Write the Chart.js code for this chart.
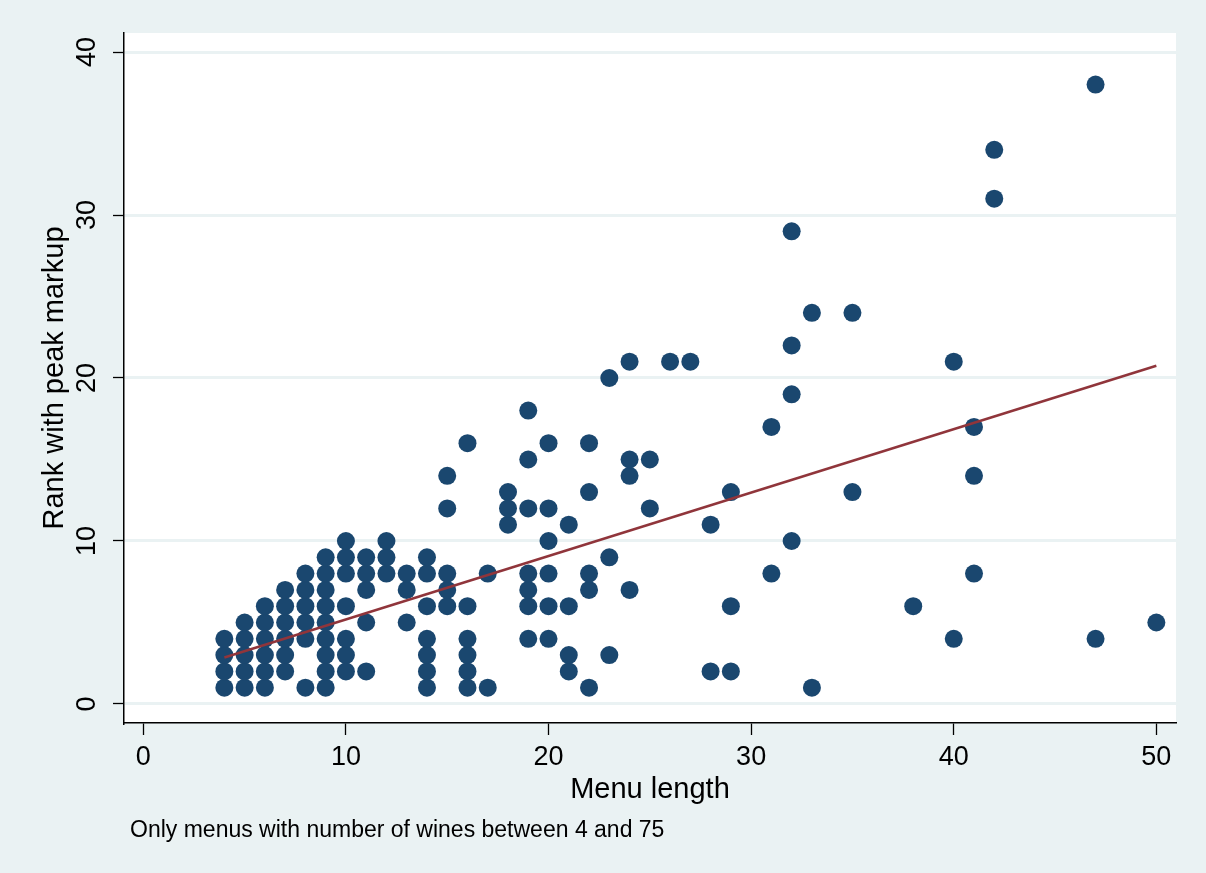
<!DOCTYPE html>
<html>
<head>
<meta charset="utf-8">
<style>
  html, body { margin: 0; padding: 0; background: #eaf2f3; }
  canvas { display: block; }
</style>
<script src="https://cdn.jsdelivr.net/npm/chart.js@4/dist/chart.umd.min.js"></script>
</head>
<body>
<canvas id="c" width="1206" height="873"></canvas>
<script>
// ---- data ----
const menuLength = [
  4,4,4,4,
  5,5,5,5,5,
  6,6,6,6,6,6,
  7,7,7,7,7,7,
  8,8,8,8,8,8,
  9,9,9,9,9,9,9,9,9,
  10,10,10,10,10,10,10,
  11,11,11,11,11,
  12,12,12,
  13,13,13,
  14,14,14,14,14,14,14,
  15,15,15,15,15,
  16,16,16,16,16,16,
  17,17,
  18,18,18,
  19,19,19,19,19,19,19,
  20,20,20,20,20,20,
  21,21,21,21,
  22,22,22,22,22,
  23,23,23,
  24,24,24,24,
  25,25,
  26,
  27,
  28,28,
  29,29,29,
  31,31,
  32,32,32,32,
  33,33,
  35,35,
  38,
  40,40,
  41,41,41,
  42,42,
  47,47,
  50
];
const rankPeak = [
  1,2,3,4,
  1,2,3,4,5,
  1,2,3,4,5,6,
  2,3,4,5,6,7,
  1,4,5,6,7,8,
  1,2,3,4,5,6,7,8,9,
  2,3,4,6,8,9,10,
  2,5,7,8,9,
  8,9,10,
  5,7,8,
  1,2,3,4,6,8,9,
  6,7,8,12,14,
  1,2,3,4,6,16,
  1,8,
  11,12,13,
  4,6,7,8,12,15,18,
  4,6,8,10,12,16,
  2,3,6,11,
  1,7,8,13,16,
  3,9,20,
  7,14,15,21,
  12,15,
  21,
  21,
  2,11,
  2,6,13,
  8,17,
  10,19,22,29,
  1,24,
  13,24,
  6,
  4,21,
  8,14,17,
  31,34,
  4,38,
  5
];
// fitted line end points (as drawn in the reference)
const fitX = [4, 50];
const fitY = [2.85, 20.75];

const xTicks = [0, 10, 20, 30, 40, 50];
const yTicks = [0, 10, 20, 30, 40];

const xTitle = 'Menu length';
const yTitle = 'Rank with peak markup';
const noteText = 'Only menus with number of wines between 4 and 75';

// ---- build ----
const scatterPts = menuLength.map((x, i) => ({ x: x, y: rankPeak[i] }));
const fitPts = fitX.map((x, i) => ({ x: x, y: fitY[i] }));

const FONT = '"Liberation Sans", Arial, Helvetica, sans-serif';
const BG = '#eaf2f3';

const bgPlugin = {
  id: 'bg',
  beforeDraw(chart) {
    const { ctx, chartArea } = chart;
    ctx.save();
    ctx.fillStyle = BG;
    ctx.fillRect(0, 0, chart.width, chart.height);
    ctx.fillStyle = '#ffffff';
    ctx.fillRect(chartArea.left, chartArea.top, chartArea.right - chartArea.left, chartArea.bottom - chartArea.top);
    ctx.restore();
  }
};

const notePlugin = {
  id: 'note',
  afterDraw(chart) {
    const ctx = chart.ctx;
    ctx.save();
    ctx.fillStyle = '#000';
    ctx.font = '23px ' + FONT;
    ctx.textAlign = 'left';
    ctx.textBaseline = 'alphabetic';
    ctx.fillText(noteText, 130, 837);
    ctx.restore();
  }
};

new Chart(document.getElementById('c'), {
  data: {
    datasets: [
      {
        type: 'line',
        data: fitPts,
        borderColor: '#90353b',
        borderWidth: 2.5,
        pointRadius: 0,
        fill: false,
        tension: 0
      },
      {
        type: 'scatter',
        data: scatterPts,
        backgroundColor: '#1a476f',
        borderColor: '#1a476f',
        borderWidth: 0,
        pointRadius: 9,
        pointHoverRadius: 9
      }
    ]
  },
  options: {
    responsive: false,
    animation: false,
    devicePixelRatio: 1,
    layout: { padding: { left: 0, right: 30, top: 33, bottom: 50 } },
    plugins: {
      legend: { display: false },
      tooltip: { enabled: false }
    },
    scales: {
      x: {
        type: 'linear',
        position: 'bottom',
        min: -0.953,
        max: 50.97,
        afterBuildTicks: (s) => { s.ticks = xTicks.map(v => ({ value: v })); },
        afterFit: (s) => { s.height = 100; },
        grid: {
          display: true,
          drawOnChartArea: false,
          drawTicks: true,
          tickLength: 12,
          tickColor: '#000',
          tickWidth: 1.3
        },
        border: { display: true, color: '#000', width: 1.5 },
        ticks: {
          color: '#000',
          font: { family: FONT, size: 27 },
          padding: 6,
          maxRotation: 0,
          minRotation: 0
        },
        title: {
          display: true,
          text: xTitle,
          color: '#000',
          font: { family: FONT, size: 29 },
          padding: { top: 0, bottom: 16 }
        }
      },
      y: {
        type: 'linear',
        position: 'left',
        min: -1.166,
        max: 41.166,
        afterBuildTicks: (s) => { s.ticks = yTicks.map(v => ({ value: v })); },
        afterFit: (s) => { s.width = 124; },
        grid: {
          display: true,
          drawOnChartArea: true,
          color: BG,
          lineWidth: 3,
          drawTicks: true,
          tickLength: 11,
          tickColor: '#000',
          tickWidth: 1.3
        },
        border: { display: true, color: '#000', width: 1.5 },
        ticks: {
          color: '#000',
          font: { family: FONT, size: 27 },
          padding: 10,
          minRotation: 90,
          maxRotation: 90,
          crossAlign: 'center'
        },
        title: {
          display: true,
          text: yTitle,
          color: '#000',
          font: { family: FONT, size: 29 },
          padding: { top: 38, bottom: 0 }
        }
      }
    }
  },
  plugins: [bgPlugin, notePlugin]
});
</script>
</body>
</html>
